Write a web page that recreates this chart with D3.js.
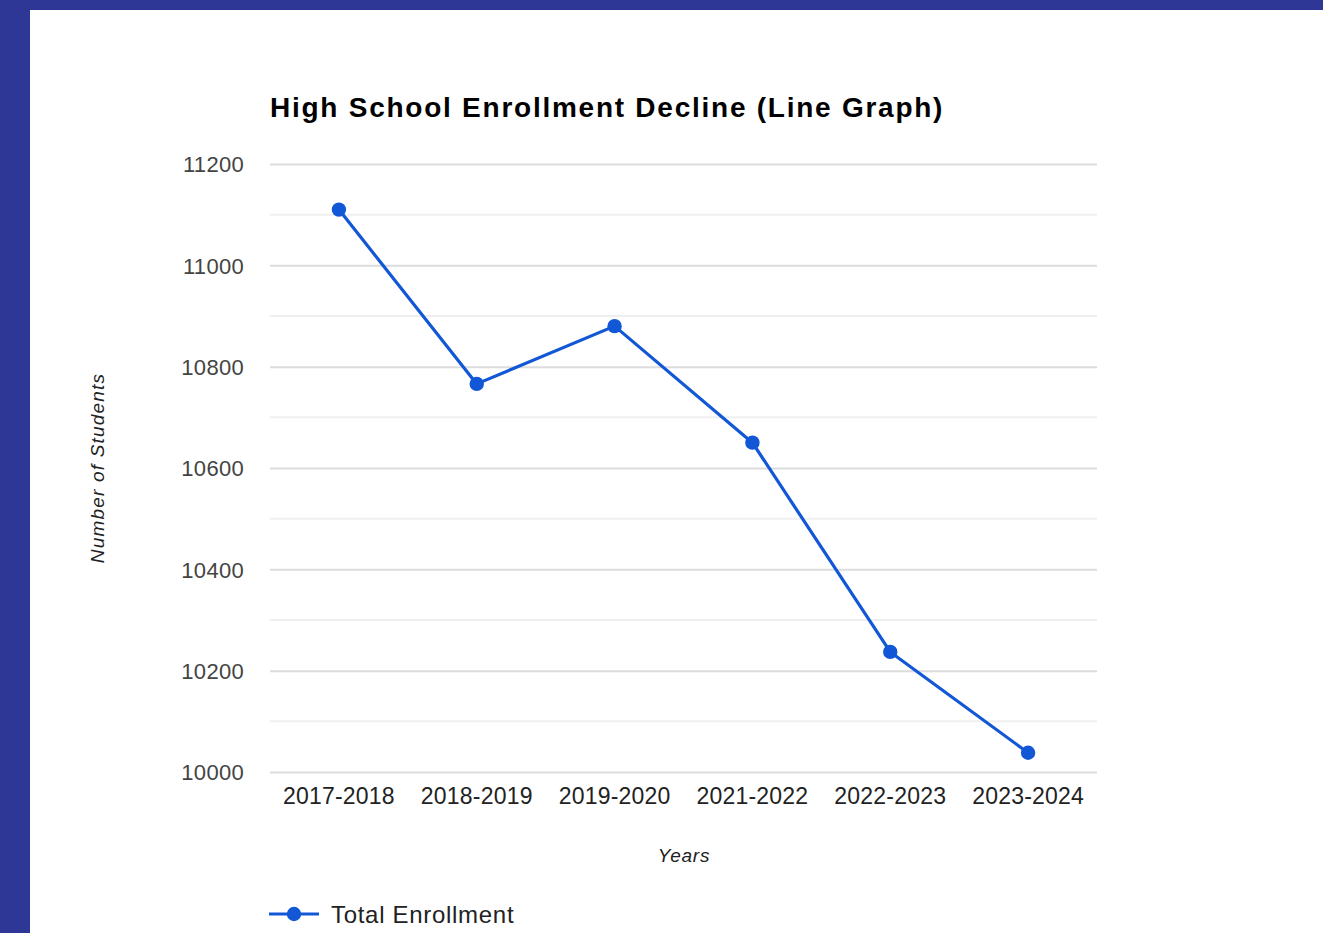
<!DOCTYPE html>
<html>
<head>
<meta charset="utf-8">
<script src="https://cdn.jsdelivr.net/npm/d3@7"></script>
<style>
  html, body { margin: 0; padding: 0; background: #2e3796; }
  svg { display: block; }
</style>
</head>
<body>
<svg id="chart" width="1323" height="933"></svg>
<script>
const categories = ["2017-2018", "2018-2019", "2019-2020", "2021-2022", "2022-2023", "2023-2024"];
const enrollment = [11110, 10766, 10880, 10650, 10237, 10038];
const yTicks = [10000, 10200, 10400, 10600, 10800, 11000, 11200];
const yMinorTicks = [10100, 10300, 10500, 10700, 10900, 11100];
const seriesName = "Total Enrollment";
const titleText = "High School Enrollment Decline (Line Graph)";
const xTitle = "Years";
const yTitle = "Number of Students";

const svg = d3.select("#chart");
const W = 1323, H = 933;
const lineColor = "#1257d6";
const FONT = "Liberation Sans, Arial, sans-serif";

// white panel
svg.append("rect").attr("x", 30).attr("y", 10).attr("width", W - 30).attr("height", H - 10).attr("fill", "#fff");

const plot = { left: 270, right: 1097, top: 164, bottom: 772 };

const x = d3.scaleBand().domain(categories).range([plot.left, plot.right]).padding(0);
const y = d3.scaleLinear().domain([10000, 11200]).range([plot.bottom, plot.top]);

// minor gridlines
svg.append("g").selectAll("line").data(yMinorTicks).join("line")
  .attr("x1", plot.left).attr("x2", plot.right)
  .attr("y1", d => y(d)).attr("y2", d => y(d))
  .attr("stroke", "#efefef").attr("stroke-width", 2);

// major gridlines + labels via axis
const yAxis = d3.axisLeft(y).tickValues(yTicks).tickSize(-(plot.right - plot.left)).tickPadding(26).tickFormat(d3.format("d"));
const gy = svg.append("g").attr("transform", `translate(${plot.left},0)`).call(yAxis);
gy.select(".domain").remove();
gy.selectAll(".tick line").attr("stroke", "#dcdcdc").attr("stroke-width", 2);
gy.selectAll(".tick text").attr("fill", "#444").attr("font-family", FONT).attr("font-size", 22).attr("dy", "0.35em").attr("letter-spacing", "0.3px");

// x axis labels
const xAxis = d3.axisBottom(x).tickSize(0).tickPadding(16);
const gx = svg.append("g").attr("transform", `translate(0,${plot.bottom})`).call(xAxis);
gx.select(".domain").remove();
gx.selectAll(".tick text").attr("fill", "#222").attr("font-family", FONT).attr("font-size", 23).attr("letter-spacing", "0.2px");

// line
const line = d3.line().x((d, i) => x(categories[i]) + x.bandwidth() / 2).y(d => y(d));
svg.append("path").datum(enrollment).attr("d", line)
  .attr("fill", "none").attr("stroke", lineColor).attr("stroke-width", 3.2).attr("stroke-linejoin", "round");

svg.append("g").selectAll("circle").data(enrollment).join("circle")
  .attr("cx", (d, i) => x(categories[i]) + x.bandwidth() / 2)
  .attr("cy", d => y(d))
  .attr("r", 7.2)
  .attr("fill", lineColor);

// title
svg.append("text").attr("x", 270).attr("y", 117)
  .attr("font-family", FONT).attr("font-weight", "bold")
  .attr("font-size", 28).attr("letter-spacing", "1.75px").attr("fill", "#000")
  .text(titleText);

// axis titles
svg.append("text").attr("x", 684).attr("y", 862).attr("text-anchor", "middle")
  .attr("font-family", FONT).attr("font-style", "italic")
  .attr("font-size", 19).attr("letter-spacing", "0.8px").attr("fill", "#222").text(xTitle);

svg.append("text").attr("transform", "translate(104,468) rotate(-90)").attr("text-anchor", "middle")
  .attr("font-family", FONT).attr("font-style", "italic")
  .attr("font-size", 19).attr("letter-spacing", "1.2px").attr("fill", "#222").text(yTitle);

// legend
const lg = svg.append("g");
lg.append("line").attr("x1", 269).attr("x2", 319).attr("y1", 914).attr("y2", 914)
  .attr("stroke", lineColor).attr("stroke-width", 3.2);
lg.append("circle").attr("cx", 294).attr("cy", 914).attr("r", 7.2).attr("fill", lineColor);
lg.append("text").attr("x", 331).attr("y", 923)
  .attr("font-family", FONT).attr("font-size", 24).attr("letter-spacing", "0.7px").attr("fill", "#222")
  .text(seriesName);
</script>
</body>
</html>
